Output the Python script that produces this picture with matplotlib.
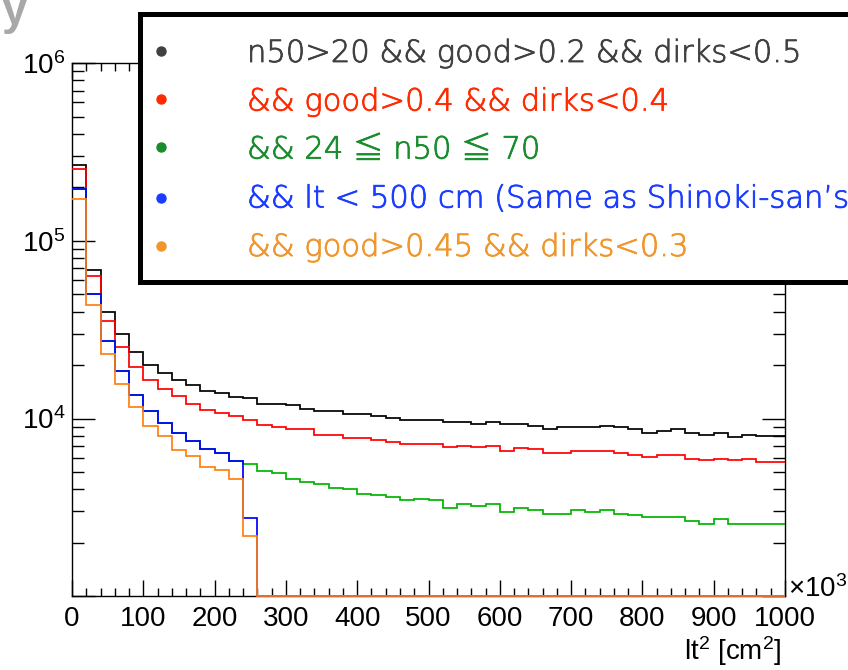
import numpy as np
import matplotlib
matplotlib.use("Agg")
import matplotlib.pyplot as plt
import matplotlib.patheffects as pe
from matplotlib.ticker import MultipleLocator, FixedLocator, LogLocator, NullFormatter, FuncFormatter
from matplotlib.patches import Rectangle
from matplotlib.lines import Line2D

plt.rcParams['font.family'] = ['Liberation Sans', 'DejaVu Sans']
plt.rcParams['mathtext.fontset'] = 'custom'
plt.rcParams['mathtext.rm'] = 'Liberation Sans'
plt.rcParams['mathtext.it'] = 'Liberation Sans:italic'
plt.rcParams['mathtext.bf'] = 'Liberation Sans:bold'

# lt^2 binning in units of 10^3 cm^2 (50 bins of 20)
bin_width = 20
x_max = 1000
bin_edges = np.arange(0, x_max + bin_width, bin_width)

# entries per bin for each selection
counts_base = np.array([
    266600, 68330, 39650, 29940, 23610, 19950, 18060, 16430, 15340, 14300,
    13940, 13230, 13010, 12140, 12140, 11880, 11320, 11030, 11030, 10570,
    10570, 10300, 10040, 9780, 9780, 9780, 9530, 9530, 9350, 9570,
    9370, 9370, 9110, 8710, 8930, 8930, 8930, 9110, 8930, 8710,
    8320, 8480, 8710, 8320, 8100, 8320, 7920, 8100, 7930, 7930])

counts_good04 = np.array([
    252900, 63450, 35150, 25190, 19520, 16490, 14620, 13350, 12140, 11130,
    10810, 10300, 9870, 9170, 8970, 8710, 8710, 8130, 8130, 7780,
    7780, 7550, 7385, 7215, 7215, 7215, 6895, 7050, 6895, 7050,
    6590, 6870, 6720, 6400, 6400, 6550, 6550, 6550, 6400, 6255,
    6095, 6240, 6240, 5940, 5825, 5940, 5825, 5940, 5675, 5675])

counts_n50 = np.array([
    194400, 50060, 27130, 18530, 13580, 11030, 9445, 8265, 7455, 6780,
    6400, 5800, 5550, 5050, 4940, 4595, 4396, 4268, 4090, 4000,
    3785, 3703, 3622, 3470, 3547, 3470, 3156, 3294, 3223, 3294,
    2996, 3156, 3075, 2920, 2920, 3059, 2981, 3059, 2920, 2856,
    2794, 2794, 2794, 2652, 2542, 2730, 2542, 2542, 2542, 2542])

counts_lt500 = np.array([
    194400, 50060, 27130, 18530, 13580, 11030, 9445, 8265, 7455, 6780,
    6400, 5800, 2773, 0, 0, 0, 0, 0, 0, 0,
    0, 0, 0, 0, 0, 0, 0, 0, 0, 0,
    0, 0, 0, 0, 0, 0, 0, 0, 0, 0,
    0, 0, 0, 0, 0, 0, 0, 0, 0, 0])

counts_good045 = np.array([
    172100, 43590, 23100, 15650, 11580, 9085, 7950, 6690, 6135, 5340,
    5164, 4583, 2196, 0, 0, 0, 0, 0, 0, 0,
    0, 0, 0, 0, 0, 0, 0, 0, 0, 0,
    0, 0, 0, 0, 0, 0, 0, 0, 0, 0,
    0, 0, 0, 0, 0, 0, 0, 0, 0, 0])

legend_labels = [
    "n50>20 && good>0.2 && dirks<0.5",
    "&& good>0.4 && dirks<0.4",
    "&& 24 \u2266 n50 \u2266 70",
    "&& lt < 500 cm (Same as Shinoki-san\u2019s)",
    "&& good>0.45 && dirks<0.3",
]
y_ticks = [1e3, 1e4, 1e5, 1e6]

series = [counts_base, counts_good04, counts_n50, counts_lt500, counts_good045]
line_colors = ['#000000', '#ff0000', '#00b400', '#0000ff', '#ff7f10']
text_colors = ['#404040', '#ff2a00', '#1a8c2e', '#1a3cff', '#f0962a']

W, H = 848, 670
fig = plt.figure(figsize=(W / 100, H / 100), dpi=100)
ax_l, ax_r, ax_t, ax_b = 72, 785, 63, 596.3
ax = fig.add_axes([ax_l / W, 1 - ax_b / H, (ax_r - ax_l) / W, (ax_b - ax_t) / H])

y_min, y_max = 1e3, 1e6
ax.set_yscale('log')
ax.set_xlim(0, x_max)
ax.set_ylim(y_min, y_max)

# empty bins sit on the lower frame edge
for counts, color in zip(series, line_colors):
    drawn = np.where(counts > 0, counts, y_min).astype(float)
    ax.stairs(drawn, bin_edges, color=color, lw=1.25, baseline=None,
              zorder=3, clip_on=False)

ax.xaxis.set_major_locator(MultipleLocator(100))
ax.xaxis.set_minor_locator(MultipleLocator(20))
ax.yaxis.set_major_locator(FixedLocator(y_ticks))
ax.yaxis.set_major_formatter(FuncFormatter(
    lambda v, p: '' if v <= y_min else r'$\mathdefault{10^{%d}}$' % round(np.log10(v))))
ax.yaxis.set_minor_locator(LogLocator(base=10, subs=np.arange(2, 10)))
ax.yaxis.set_minor_formatter(NullFormatter())

ax.tick_params(which='both', direction='in', top=True, right=True,
               labelsize=20, width=1.0, color='black')
ax.tick_params(axis='x', which='major', length=11.5, pad=7)
ax.tick_params(axis='x', which='minor', length=5.8)
ax.tick_params(axis='y', which='major', length=16.5, pad=5)
ax.tick_params(axis='y', which='minor', length=8.6)
for sp in ax.spines.values():
    sp.set_linewidth(1.0)

# axis multiplier and title
fig.text(788 / W, 1 - 597 / H, r'$\mathdefault{\times10^{3}}$', fontsize=20,
         ha='left', va='baseline')
fig.text(782 / W, 1 - 660 / H, r'$\mathdefault{lt^{2}\ [cm^{2}]}$', fontsize=20,
         ha='right', va='baseline')

# slide heading fragment
fig.text(2 / W, 1 - 23.5 / H, 'y', fontsize=33, fontweight='bold',
         color='#a8a8a8', ha='left', va='baseline')

# legend box
box = Rectangle((140 / W, 1 - 282.5 / H), 1.0, (282.5 - 14) / H,
                transform=fig.transFigure, facecolor='white', edgecolor='black',
                linewidth=3.6, zorder=10)
fig.add_artist(box)

row_baselines = [62, 110.5, 158.5, 207.5, 256]
bullet_centers = [51, 99, 147, 198, 246]
for label, tc, yb, yc in zip(legend_labels, text_colors, row_baselines, bullet_centers):
    fig.add_artist(Line2D([161 / W], [1 - yc / H], marker='o', markersize=6.5,
                          color=tc, linestyle='none', transform=fig.transFigure,
                          zorder=11))
    fig.text(247 / W, 1 - yb / H, label, fontsize=22, color=tc,
             family=['DejaVu Sans', 'Noto Sans CJK JP'], fontweight='light',
             ha='left', va='baseline', zorder=11,
             path_effects=[pe.withStroke(linewidth=0.6, foreground=tc)])

fig.savefig('out.png', dpi=100)
